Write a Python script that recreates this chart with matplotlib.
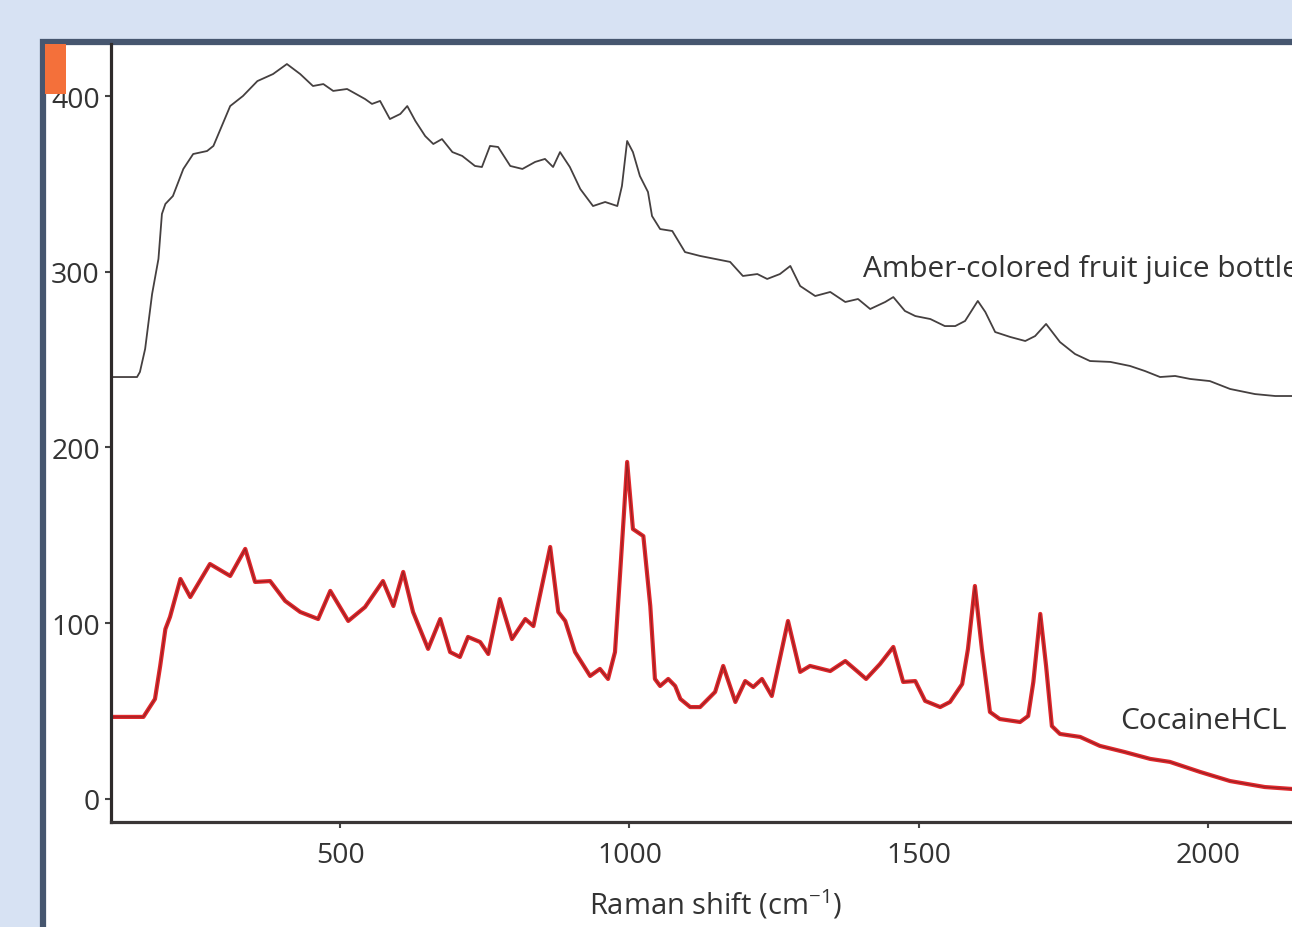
import matplotlib
matplotlib.use("Agg")
import matplotlib.pyplot as plt
from matplotlib.patches import Rectangle

# ---- data (Raman shift, intensity) ----
cocaine_shift = [104, 160, 180, 189, 198, 206, 224, 241, 275, 310, 336, 353, 379, 405, 431, 462,
                 483, 514, 543, 574, 592, 609, 626, 652, 673, 690, 707, 721, 742, 756, 776, 797,
                 820, 834, 863, 877, 889, 906, 932, 949, 963, 975, 984, 990, 996, 1006, 1024, 1036,
                 1044, 1053, 1067, 1079, 1088, 1105, 1122, 1148, 1162, 1183, 1200, 1214, 1229, 1246,
                 1274, 1295, 1312, 1347, 1373, 1395, 1409, 1433, 1456, 1473, 1494, 1511, 1537, 1554,
                 1575, 1585, 1597, 1609, 1623, 1640, 1675, 1689, 1698, 1710, 1720, 1730, 1744, 1779,
                 1813, 1856, 1900, 1934, 1986, 2038, 2098, 2145]
cocaine_int = [46.7, 46.7, 56.9, 75.7, 96.7, 103.6, 125.2, 114.9, 133.7, 126.9, 142.3, 123.5, 124.0,
               112.7, 106.4, 102.4, 118.4, 101.3, 109.2, 124.0, 109.8, 129.2, 106.4, 85.4, 102.4,
               83.6, 80.8, 92.2, 89.3, 82.5, 113.8, 91.0, 102.4, 98.4, 143.4, 106.4, 101.3, 83.6,
               70.0, 74.0, 68.3, 83.6, 129.2, 160.0, 191.8, 153.6, 149.6, 109.8, 68.3, 64.3, 68.3,
               64.3, 56.9, 52.3, 52.3, 60.9, 75.7, 55.2, 67.1, 63.7, 68.3, 58.6, 101.3, 72.3, 75.7,
               72.8, 78.5, 72.3, 68.3, 76.8, 86.5, 66.6, 67.1, 55.8, 52.3, 55.2, 65.4, 85.4, 121.2,
               85.4, 49.5, 45.5, 43.8, 47.2, 66.6, 105.3, 75.7, 41.5, 37.0, 35.3, 30.2, 26.7, 22.8,
               21.1, 15.4, 10.2, 6.8, 5.7]

bottle_shift = [104, 149, 154, 163, 168, 175, 186, 192, 198, 211, 229, 246, 270, 281, 310, 332, 357,
                384, 408, 431, 453, 471, 488, 512, 543, 555, 569, 586, 604, 616, 630, 647, 661, 676,
                694, 711, 733, 745, 759, 773, 794, 815, 837, 854, 868, 880, 897, 915, 937, 958, 979,
                987, 996, 1006, 1018, 1032, 1039, 1053, 1074, 1096, 1122, 1148, 1174, 1196, 1221,
                1238, 1260, 1278, 1295, 1321, 1347, 1373, 1395, 1416, 1442, 1456, 1476, 1494, 1520,
                1545, 1563, 1580, 1602, 1615, 1632, 1658, 1684, 1701, 1720, 1744, 1770, 1796, 1831,
                1865, 1891, 1917, 1943, 1969, 2003, 2038, 2081, 2116, 2145]
bottle_int = [240.1, 240.1, 243.0, 256.1, 269.1, 287.3, 307.3, 332.9, 338.6, 343.1, 358.5, 367.0,
              368.7, 371.6, 394.3, 400.0, 408.5, 412.5, 418.2, 412.5, 405.7, 406.8, 402.9, 404.0,
              398.3, 395.5, 397.2, 386.9, 389.8, 394.3, 385.8, 377.2, 372.7, 375.5, 368.1, 365.9,
              360.2, 359.6, 371.6, 371.0, 360.2, 358.5, 362.5, 364.2, 359.6, 368.1, 359.6, 347.1,
              337.4, 339.7, 337.4, 348.8, 374.4, 368.1, 354.5, 345.4, 331.7, 324.3, 323.2, 311.2,
              309.0, 307.3, 305.6, 297.6, 298.7, 295.9, 298.7, 303.3, 291.9, 286.2, 288.5, 282.8,
              284.5, 278.8, 282.8, 285.6, 277.7, 274.8, 273.1, 269.1, 269.1, 272.0, 283.4, 277.1,
              265.7, 262.9, 260.6, 263.4, 270.3, 260.0, 253.2, 249.2, 248.7, 246.4, 243.5, 240.1,
              240.7, 239.0, 237.8, 233.3, 230.4, 229.3, 229.3]

xticks = [500, 1000, 1500, 2000]
yticks = [0, 100, 200, 300, 400]
xlabel = "Raman shift (cm$^{-1}$)"
label_bottle = "Amber-colored fruit juice bottle"
label_cocaine = "CocaineHCL"

plt.rcParams['font.family'] = ['Open Sans', 'DejaVu Sans']
plt.rcParams['mathtext.fontset'] = 'custom'
plt.rcParams['mathtext.rm'] = 'Open Sans'
plt.rcParams['mathtext.default'] = 'regular'

W, H = 1292, 928
fig = plt.figure(figsize=(W / 100, H / 100), dpi=100)
fig.patch.set_facecolor('#d7e2f3')

# white panel with dark frame
frame = Rectangle((43 / W, -0.1), 1.2, (1 - 43 / H) + 0.1, transform=fig.transFigure,
                  facecolor='white', edgecolor='#46566f', linewidth=4.5, zorder=-5)
fig.add_artist(frame)

ax = fig.add_axes([111 / W, 1 - 823 / H, (W - 111) / W, (823 - 45) / H])
ax.set_facecolor('none')
ax.set_xlim(104, 2145)
ax.set_ylim(-13.1, 429.6)

ax.plot(bottle_shift, bottle_int, color='#454040', lw=1.3)
ax.plot(cocaine_shift, cocaine_int, color='#e0282c', lw=3.0, solid_joinstyle='round')
ax.plot(cocaine_shift, cocaine_int, color='#6a1c1e', lw=0.9, alpha=0.6)

for s in ['top', 'right']:
    ax.spines[s].set_visible(False)
ax.spines['left'].set_linewidth(2.3)
ax.spines['bottom'].set_linewidth(2.3)
ax.spines['left'].set_color('#2e2a2a')
ax.spines['bottom'].set_color('#3a3636')

ax.set_xticks(xticks)
ax.set_yticks(yticks)
ax.tick_params(axis='both', direction='out', length=4, width=1.5, color='#444444',
               labelsize=20.5, labelcolor='#333333')
ax.tick_params(axis='x', pad=10)
ax.tick_params(axis='y', pad=4)

ax.set_xlabel(xlabel, fontsize=21, color='#333333')
ax.xaxis.set_label_coords((715 - 111) / (W - 111), -(905 - 823) / (823 - 45))
ax.xaxis.label.set_va('center')

ax.text(1404, 301.6, label_bottle, fontsize=21.5, color='#333333', ha='left', va='center')
ax.text(1848, 44.4, label_cocaine, fontsize=21.5, color='#333333', ha='left', va='center')

# small orange marker in the corner of the panel
fig.add_artist(Rectangle((45 / W, 1 - 95 / H), 21 / W, 50 / H, transform=fig.transFigure,
                         facecolor='#f4703a', edgecolor='none', zorder=5))

fig.savefig('out.png', dpi=100)
